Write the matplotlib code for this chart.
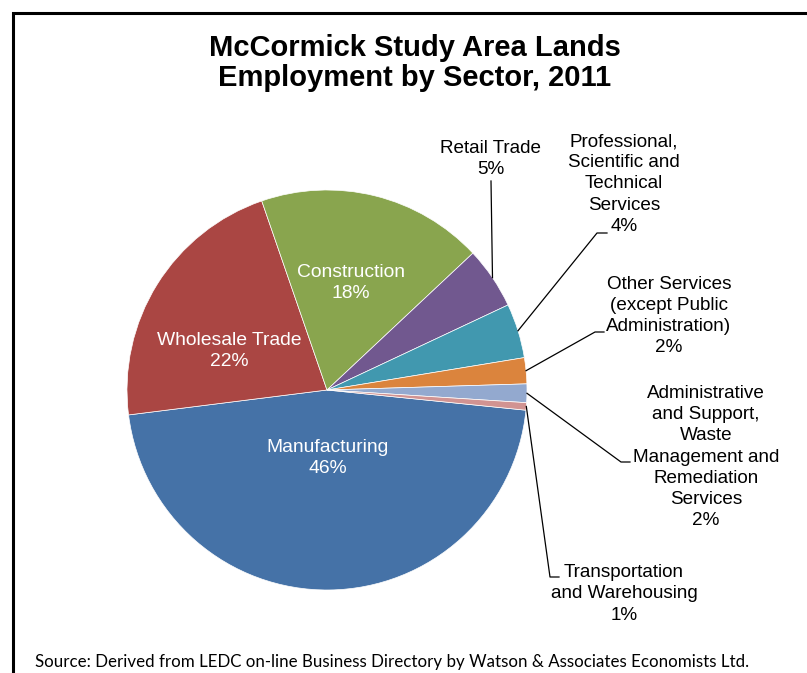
import numpy as np
import matplotlib.pyplot as plt
from matplotlib.patches import Rectangle

# --- data ---
sectors = [
    "Manufacturing",
    "Wholesale Trade",
    "Construction",
    "Retail Trade",
    "Professional,\nScientific and\nTechnical\nServices",
    "Other Services\n(except Public\nAdministration)",
    "Administrative\nand Support,\nWaste\nManagement and\nRemediation\nServices",
    "Transportation\nand Warehousing",
]
shares = [46.4, 21.7, 18.3, 5.0, 4.4, 2.1, 1.5, 0.6]
colors = ["#4572A7", "#AA4643", "#89A54E", "#71588F",
          "#4198AF", "#DB843D", "#93A9CF", "#D19392"]

TITLE = "McCormick Study Area Lands\nEmployment by Sector, 2011"
SOURCE = "Source: Derived from LEDC on-line Business Directory by Watson & Associates Economists Ltd."

# --- layout (pixels, figure is 807 x 673) ---
W, H = 807, 673
CX, CY, R = 327, 390, 200

def to_data(x, y):
    return (x - CX) / R, (CY - y) / R

# inside labels: text centre
inside_pos = {0: (328, 458), 1: (229, 351), 2: (351, 283)}
# outside labels: (leader elbow, leader end, text centre)
outside_pos = {
    3: ((491, 181), (491, 181), (491, 159)),
    4: ((597, 233), (607, 233), (624, 184)),
    5: ((595, 332), (604, 332), (669, 316)),
    6: ((621, 462), (630, 462), (706, 457)),
    7: ((550, 577), (559, 577), (624, 594)),
}

fig = plt.figure(figsize=(W / 100, H / 100), dpi=100)
fig.patches.append(Rectangle((12.5 / W, -0.1), 1.2, 1.1 - 13.5 / H,
                             transform=fig.transFigure, fill=False,
                             edgecolor="black", linewidth=2.2))

ax = fig.add_axes([(CX - R) / W, (H - CY - R) / H, 2 * R / W, 2 * R / H])
wedges, _ = ax.pie(shares, colors=colors, startangle=-5.8, counterclock=False,
                   radius=1, wedgeprops=dict(edgecolor="white", linewidth=0.5))
ax.set_xlim(-1, 1)
ax.set_ylim(-1, 1)
ax.axis("off")

for i, w in enumerate(wedges):
    text = f"{sectors[i]}\n{shares[i]:.0f}%"
    if i in inside_pos:
        tx, ty = to_data(*inside_pos[i])
        ax.text(tx, ty, text, ha="center", va="center", color="white",
                linespacing=1.27, family="Liberation Sans", fontsize=13.9)
        continue
    elbow, end, centre = outside_pos[i]
    mid = np.deg2rad((w.theta1 + w.theta2) / 2)
    x0, y0 = np.cos(mid), np.sin(mid)
    ex, ey = to_data(*elbow)
    nx, ny = to_data(*end)
    ax.plot([x0, ex, nx], [y0, ey, ny], color="black", lw=0.9, clip_on=False)
    tx, ty = to_data(*centre)
    ax.text(tx, ty, text, ha="center", va="center", color="black",
            linespacing=1.31, clip_on=False, family="Liberation Sans",
            fontsize=13.6)

fig.text(415 / W, 1 - 63 / H, TITLE, ha="center", va="center",
         family="Liberation Sans", fontweight="bold", fontsize=21,
         linespacing=1.08)
fig.text(35 / W, 1 - 662 / H, SOURCE, ha="left", va="center",
         family="Lato", fontsize=12.2)

fig.savefig("out.png", dpi=100)
